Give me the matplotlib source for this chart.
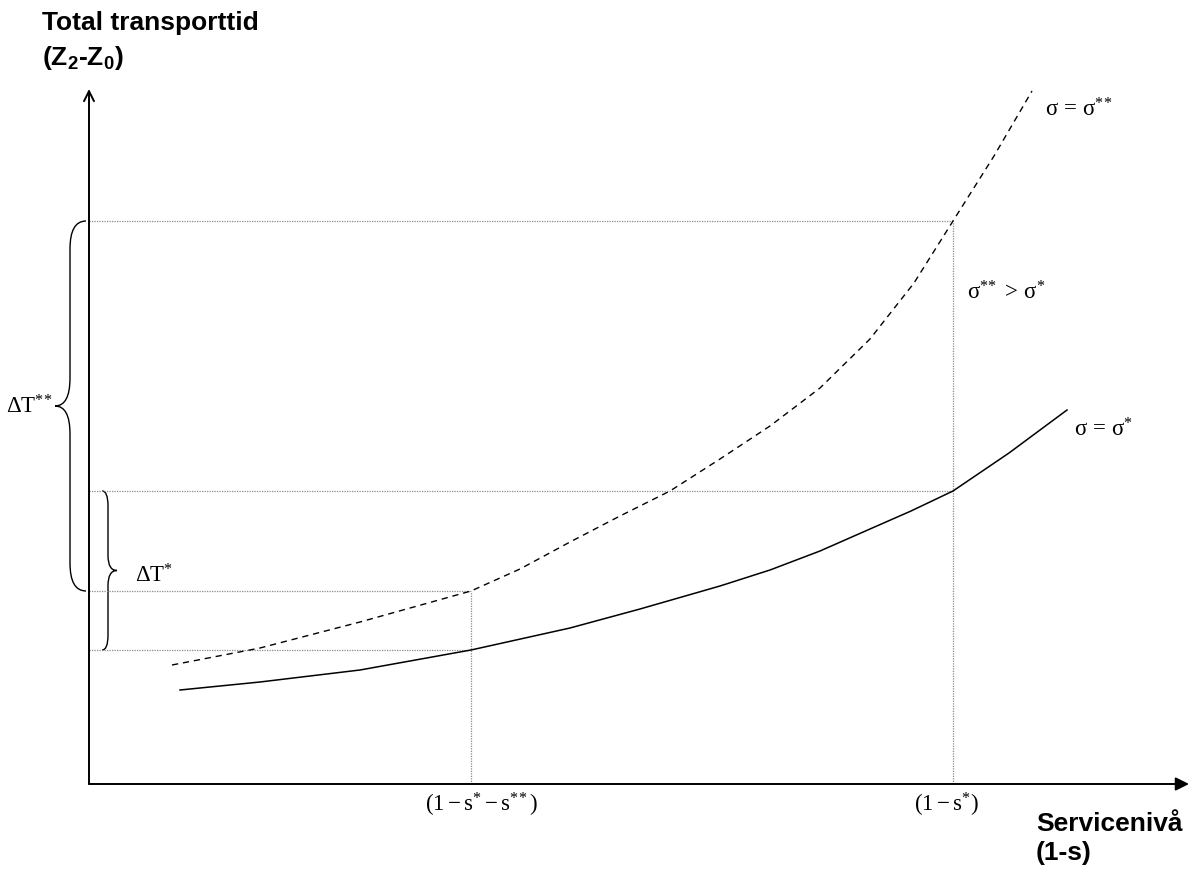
#! /usr/bin/env python3
# coding: utf-8

import matplotlib
matplotlib.use("Agg")
import matplotlib.pyplot as plt
from matplotlib.path import Path
from matplotlib.patches import PathPatch

plt.rcParams['mathtext.fontset'] = 'custom'
plt.rcParams['mathtext.rm'] = 'Liberation Serif'
plt.rcParams['mathtext.it'] = 'Liberation Serif:italic'
plt.rcParams['mathtext.sf'] = 'Liberation Sans:bold'
plt.rcParams['font.family'] = ['Liberation Sans', 'DejaVu Sans']

####
# Les donnees
####

# courbe pleine : sigma = sigma*
x_sigma1 = [0.91, 1.71, 2.71, 3.82, 4.81, 5.51, 6.31, 6.81, 7.31, 7.81, 8.22, 8.64, 9.2, 9.78]
y_sigma1 = [0.94, 1.02, 1.14, 1.34, 1.56, 1.75, 1.98, 2.14, 2.33, 2.55, 2.73, 2.93, 3.31, 3.74]

# courbe pointillee : sigma = sigma**
x_sigma2 = [0.83, 1.71, 2.71, 3.82, 4.31, 4.81, 5.31, 5.81, 6.31, 6.81, 7.31, 7.81, 8.25, 8.64, 9.05, 9.43]
y_sigma2 = [1.19, 1.36, 1.62, 1.93, 2.15, 2.42, 2.68, 2.93, 3.25, 3.58, 3.96, 4.45, 5.01, 5.63, 6.28, 6.93]

# niveaux de service marques sur l'axe x
service_x = [3.82, 8.64]
service_labels = [r'$\mathrm{(1-s^{*}-s^{*\!*})}$', r'$\mathrm{(1-s^{*})}$']

# temps de transport aux deux niveaux de service
t_star = [1.34, 2.93]       # sur sigma*
t_star2 = [1.93, 5.63]      # sur sigma**

x_max = 11.0
y_max = 6.95


def accolade(ax, y_bas, y_haut, x_bout, x_milieu, x_pointe, r):
	"""dessine une accolade verticale entre y_bas et y_haut"""
	y_m = (y_bas + y_haut) / 2
	verts = [
		(x_bout, y_haut), (x_milieu, y_haut), (x_milieu, y_haut - r),
		(x_milieu, y_m + r),
		(x_milieu, y_m), (x_pointe, y_m),
		(x_milieu, y_m), (x_milieu, y_m - r),
		(x_milieu, y_bas + r),
		(x_milieu, y_bas), (x_bout, y_bas),
	]
	codes = [Path.MOVETO, Path.CURVE3, Path.CURVE3, Path.LINETO,
		Path.CURVE3, Path.CURVE3, Path.CURVE3, Path.CURVE3,
		Path.LINETO, Path.CURVE3, Path.CURVE3]
	ax.add_patch(PathPatch(Path(verts, codes), fill=False, lw=1.0, color='black'))


def main():
	fig = plt.figure(figsize=(11.92, 8.7), dpi=100)
	ax = fig.add_axes([0, 0, 1, 1])
	ax.set_xlim(-0.89, 11.03)
	ax.set_ylim(-0.85, 7.85)
	ax.axis('off')

	# les axes avec fleches
	ax.annotate('', xy=(0, y_max), xytext=(0, 0),
		arrowprops=dict(arrowstyle='->', lw=1.4, color='black',
			shrinkA=0, shrinkB=0, mutation_scale=18))
	ax.annotate('', xy=(x_max, 0), xytext=(0, 0),
		arrowprops=dict(arrowstyle='-|>', lw=1.4, color='black',
			shrinkA=0, shrinkB=0, mutation_scale=20))

	# lignes de repere
	guide = dict(color='#8a8a8a', lw=0.9, linestyle=(0, (1, 1)))
	for i in range(len(service_x)):
		ax.plot([service_x[i], service_x[i]], [0, t_star2[i]], **guide)
		ax.plot([0, service_x[i]], [t_star[i], t_star[i]], **guide)
		ax.plot([0, service_x[i]], [t_star2[i], t_star2[i]], **guide)

	# les courbes
	ax.plot(x_sigma1, y_sigma1, color='black', lw=1.1)
	ax.plot(x_sigma2, y_sigma2, color='black', lw=1.0, linestyle=(0, (4.5, 3.5)))

	# accolades
	accolade(ax, t_star2[0], t_star2[1], -0.03, -0.19, -0.34, 0.28)
	accolade(ax, t_star[0], t_star[1], 0.13, 0.19, 0.28, 0.15)

	fs = 16.5
	ax.text(-0.36, (t_star2[0] + t_star2[1]) / 2, r'$\mathrm{\Delta T^{*\!*}}$',
		ha='right', va='center', fontsize=fs)
	ax.text(0.46, (t_star[0] + t_star[1]) / 2 - 0.04, r'$\mathrm{\Delta T^{*}}$',
		ha='left', va='center', fontsize=fs)

	ax.text(9.56, 6.75, r'$\mathrm{\sigma\,=\,\sigma^{*\!*}}$', ha='left', va='center', fontsize=fs)
	ax.text(8.78, 4.92, r'$\mathrm{\sigma^{*\!*}\,>\,\sigma^{*}}$', ha='left', va='center', fontsize=fs)
	ax.text(9.85, 3.55, r'$\mathrm{\sigma\,=\,\sigma^{*}}$', ha='left', va='center', fontsize=fs)

	decal = [10, -7]
	for i in range(len(service_x)):
		ax.annotate(service_labels[i], xy=(service_x[i], 0), xytext=(decal[i], -20),
			textcoords='offset pixels', ha='center', va='center', fontsize=fs)

	# titres des axes
	tf = 19
	ax.text(-0.47, 7.62, 'Total transporttid', ha='left', va='center',
		fontsize=tf, fontweight='bold')
	ax.text(-0.47, 7.27, r'(Z$\mathsf{_2}$-Z$\mathsf{_0}$)', ha='left', va='center',
		fontsize=tf, fontweight='bold')
	ax.text(9.47, -0.39, 'Servicenivå', ha='left', va='center',
		fontsize=tf, fontweight='bold')
	ax.text(9.47, -0.68, '(1-s)', ha='left', va='center',
		fontsize=tf, fontweight='bold')

	fig.savefig('out.png', dpi=100)


if __name__ == "__main__":
	main()
